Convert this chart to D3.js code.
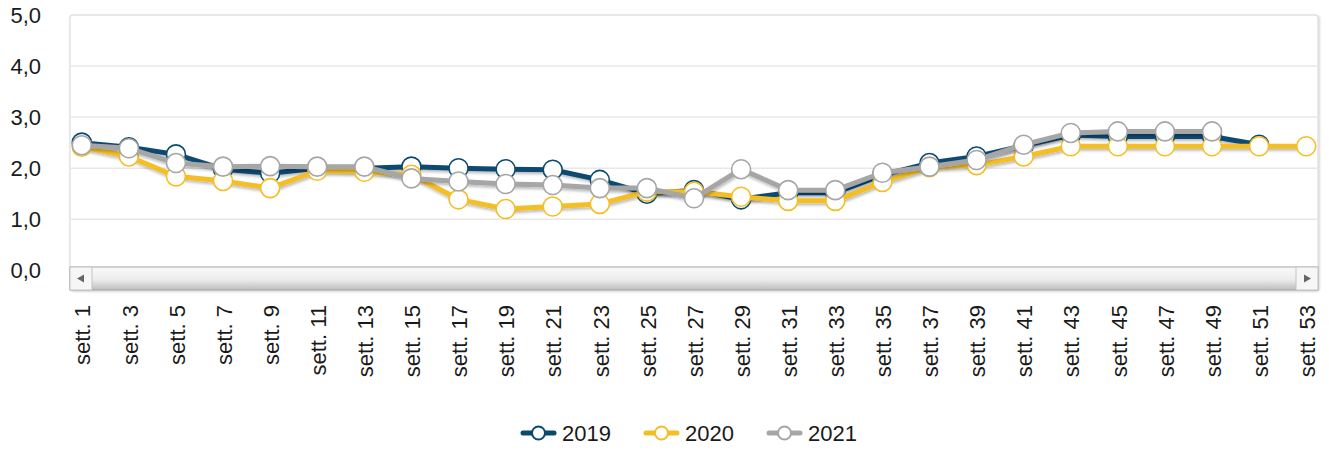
<!DOCTYPE html>
<html>
<head>
<meta charset="utf-8">
<script src="https://cdn.jsdelivr.net/npm/d3@7"></script>
<style>
  body { margin: 0; background: #fff; }
  text { font-family: "Liberation Sans", Arial, sans-serif; fill: #1a1a1a; }
</style>
</head>
<body>
<script>
var width = 1329, height = 450;
var plot = {left: 70, right: 1318, top: 15, bottom: 270.3};

// data
var weeks = [1,3,5,7,9,11,13,15,17,19,21,23,25,27,29,31,33,35,37,39,41,43,45,47,49,51,53];
var labels = weeks.map(function(w){ return "sett. " + w; });
var yTicks = [0, 1, 2, 3, 4, 5];
var v2019 = [2.50,2.41,2.27,1.98,1.90,2.00,2.00,2.03,2.00,1.98,1.97,1.77,1.50,1.57,1.39,1.52,1.52,1.87,2.10,2.23,2.44,2.65,2.62,2.62,2.62,2.46,null];
var v2020 = [2.42,2.23,1.84,1.75,1.61,1.95,1.93,1.87,1.39,1.20,1.25,1.30,1.54,1.54,1.44,1.36,1.36,1.73,2.02,2.06,2.23,2.43,2.43,2.43,2.43,2.43,2.43];
var v2021 = [2.45,2.39,2.10,2.03,2.04,2.03,2.03,1.80,1.74,1.69,1.67,1.61,1.61,1.41,1.98,1.57,1.57,1.91,2.03,2.16,2.46,2.69,2.72,2.72,2.72,null,null];
var seriesNames = ["2019", "2020", "2021"];
var seriesColors = ["#0b4a6f", "#f4be25", "#a6a6a6"];
var seriesValues = [v2019, v2020, v2021];

var svg = d3.select("body").append("svg")
    .attr("width", width)
    .attr("height", height);

var defs = svg.append("defs");
defs.append("filter").attr("id", "shadow")
    .attr("x", "-5%").attr("y", "-50%").attr("width", "110%").attr("height", "200%")
  .append("feDropShadow")
    .attr("dx", 1).attr("dy", 2).attr("stdDeviation", 1.6)
    .attr("flood-color", "#000").attr("flood-opacity", 0.28);
defs.append("filter").attr("id", "boxshadow")
  .append("feDropShadow")
    .attr("dx", 1).attr("dy", 1).attr("stdDeviation", 1.2)
    .attr("flood-color", "#000").attr("flood-opacity", 0.18);
var grad = defs.append("linearGradient").attr("id", "track")
    .attr("x1", 0).attr("y1", 0).attr("x2", 0).attr("y2", 1);
grad.append("stop").attr("offset", "0%").attr("stop-color", "#fafafa");
grad.append("stop").attr("offset", "55%").attr("stop-color", "#ececec");
grad.append("stop").attr("offset", "100%").attr("stop-color", "#bdbdbd");

var xScale = d3.scalePoint()
    .domain(labels)
    .range([plot.left, plot.right])
    .padding(0.25);

var yScale = d3.scaleLinear()
    .domain([0, 5])
    .range([plot.bottom, plot.top]);

// plot area
svg.append("rect")
    .attr("x", plot.left).attr("y", plot.top)
    .attr("width", plot.right - plot.left).attr("height", 275)
    .attr("rx", 3)
    .attr("fill", "#fff")
    .attr("stroke", "#e2e2e2")
    .attr("stroke-width", 1.5)
    .attr("filter", "url(#boxshadow)");

// grid
svg.append("g")
  .selectAll("line")
  .data(yTicks.filter(function(d){ return d > 0 && d < 5; }))
  .enter().append("line")
    .attr("x1", plot.left).attr("x2", plot.right)
    .attr("y1", function(d){ return yScale(d); })
    .attr("y2", function(d){ return yScale(d); })
    .attr("stroke", "#e8e8e8")
    .attr("stroke-width", 1.5);

// y labels
svg.append("g")
  .selectAll("text")
  .data(yTicks)
  .enter().append("text")
    .attr("x", 41)
    .attr("y", function(d){ return yScale(d); })
    .attr("dy", "0.35em")
    .attr("text-anchor", "end")
    .style("font-size", "22px")
    .text(function(d){ return d3.format(".1f")(d).replace(".", ","); });

// series
var line = d3.line()
    .defined(function(d){ return d != null; })
    .x(function(d, i){ return xScale(labels[i]); })
    .y(function(d){ return yScale(d); });

seriesValues.forEach(function(vals, s){
  var g = svg.append("g");
  g.append("path")
      .datum(vals)
      .attr("d", line)
      .attr("fill", "none")
      .attr("stroke", seriesColors[s])
      .attr("stroke-width", 5)
      .attr("stroke-linejoin", "round")
      .attr("filter", "url(#shadow)");
  g.selectAll("circle")
    .data(vals.map(function(v, i){ return {v: v, i: i}; }).filter(function(d){ return d.v != null; }))
    .enter().append("circle")
      .attr("cx", function(d){ return xScale(labels[d.i]); })
      .attr("cy", function(d){ return yScale(d.v); })
      .attr("r", 9.5)
      .attr("fill", "#fff")
      .attr("stroke", seriesColors[s])
      .attr("stroke-width", 1.6);
});

// scrollbar
var sb = svg.append("g");
sb.append("rect")
    .attr("x", plot.left).attr("y", 267)
    .attr("width", plot.right - plot.left).attr("height", 23)
    .attr("fill", "url(#track)")
    .attr("stroke", "#a3a3a3").attr("stroke-width", 1);
[[plot.left, -1], [plot.right - 22, 1]].forEach(function(b){
  sb.append("rect")
      .attr("x", b[0]).attr("y", 267)
      .attr("width", 22).attr("height", 23)
      .attr("fill", "#f6f6f6")
      .attr("stroke", "#c4c4c4").attr("stroke-width", 1);
  var cx = b[0] + 11, cy = 278.5;
  sb.append("path")
      .attr("d", b[1] < 0
        ? "M" + (cx - 4) + "," + cy + "L" + (cx + 3) + "," + (cy - 4) + "L" + (cx + 3) + "," + (cy + 4) + "Z"
        : "M" + (cx + 4) + "," + cy + "L" + (cx - 3) + "," + (cy - 4) + "L" + (cx - 3) + "," + (cy + 4) + "Z")
      .attr("fill", "#666");
});

// x labels
svg.append("g")
  .selectAll("text")
  .data(labels)
  .enter().append("text")
    .attr("transform", function(d){ return "translate(" + (xScale(d) + 1) + ",305) rotate(-90)"; })
    .attr("dy", "0.35em")
    .attr("text-anchor", "end")
    .style("font-size", "22px")
    .text(function(d){ return d; });

// legend
var legX = [523, 646, 769];
var leg = svg.append("g");
seriesNames.forEach(function(n, s){
  var x0 = legX[s], y0 = 433;
  leg.append("line")
      .attr("x1", x0).attr("x2", x0 + 31)
      .attr("y1", y0).attr("y2", y0)
      .attr("stroke", seriesColors[s]).attr("stroke-width", 5)
      .attr("stroke-linecap", "round");
  leg.append("circle")
      .attr("cx", x0 + 15.5).attr("cy", y0).attr("r", 6.5)
      .attr("fill", "#fff")
      .attr("stroke", seriesColors[s]).attr("stroke-width", 2);
  leg.append("text")
      .attr("x", x0 + 39).attr("y", y0)
      .attr("dy", "0.36em")
      .style("font-size", "22px")
      .text(n);
});
</script>
</body>
</html>
